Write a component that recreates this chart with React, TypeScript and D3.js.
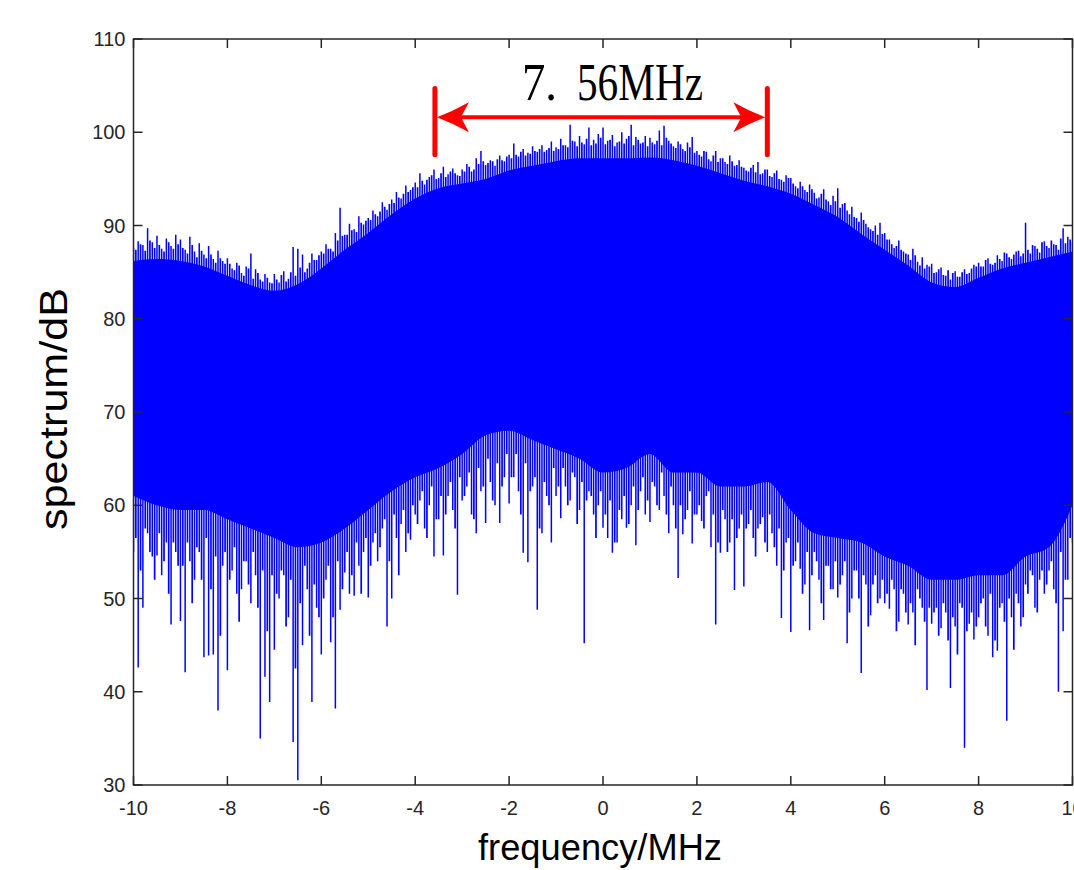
import React from "react";
import * as d3 from "d3";

// ---- data ----
// Dense spectrum samples every 0.1 MHz from -10 to 10 MHz
const sampleStart = -10;
const sampleStep = 0.1;

// top of each sample (dB)
const sampleHigh: number[] = [
  87.6, 88.3, 87.9, 89.7, 88.2, 88.9, 87.5, 88.6, 87.8, 89.0,
  88.5, 87.4, 88.8, 87.2, 88.1, 86.9, 87.8, 86.4, 87.3, 86.2,
  86.5, 85.4, 86.0, 84.9, 85.6, 87.0, 85.3, 84.2, 84.8, 83.9,
  84.8, 83.9, 85.1, 84.3, 87.7, 87.5, 86.9, 85.4, 87.0, 86.3,
  87.2, 88.0, 87.5, 89.2, 91.9, 89.0, 90.2, 89.6, 91.0, 90.1,
  90.8, 91.6, 91.0, 92.5, 91.7, 92.8, 93.6, 92.9, 94.3, 93.8,
  94.6, 95.6, 94.4, 95.2, 96.0, 95.1, 96.3, 95.5, 96.1, 95.4,
  96.0, 96.6, 95.8, 97.2, 98.0, 96.5, 97.0, 96.4, 97.5, 96.9,
  97.6, 98.8, 97.4, 98.2, 97.8, 98.5, 97.9, 98.6, 98.1, 99.0,
  98.4, 99.3, 98.6, 100.8, 99.0, 99.6, 98.7, 100.5, 99.2, 99.8,
  100.5, 99.1, 99.7, 98.9, 100.0, 99.3, 100.8, 99.5, 98.8, 99.6,
  99.4, 98.7, 100.2, 100.7, 99.1, 98.5, 99.0, 98.2, 98.9, 99.5,
  98.0, 97.4, 97.9, 96.9, 98.0, 97.2, 96.8, 97.5, 96.4, 97.0,
  96.2, 95.8, 96.5, 96.8, 95.6, 96.0, 95.2, 95.9, 94.9, 95.4,
  95.1, 94.2, 94.7, 93.8, 94.4, 93.5, 93.0, 93.9, 92.6, 93.2,
  94.0, 92.3, 91.6, 92.0, 90.8, 91.4, 90.2, 89.6, 90.0, 90.3,
  89.2, 88.5, 87.6, 88.4, 87.2, 86.9, 87.5, 86.1, 86.6, 85.8,
  85.9, 85.0, 85.5, 84.6, 84.2, 85.1, 84.5, 85.3, 84.9, 85.8,
  86.0, 85.6, 86.5, 85.8, 86.8, 86.2, 87.0, 86.4, 87.2, 86.7,
  90.3, 87.0, 87.8, 87.1, 88.3, 87.6, 88.0, 87.4, 89.7, 88.8, 88.2,
];

// bottom of each sample (dB)
const sampleLow: number[] = [
  55.0, 42.6, 49.0, 57.0, 54.5, 54.6, 52.5, 56.0, 47.2, 55.0,
  47.6, 42.1, 54.0, 52.0, 55.0, 43.7, 43.9, 44.0, 38.0, 53.5,
  42.3, 53.0, 50.5, 51.0, 54.0, 49.5, 52.5, 35.0, 41.6, 38.9,
  44.5, 50.0, 52.5, 48.0, 34.6, 30.5, 45.0, 51.0, 38.9, 49.0,
  44.0, 52.0, 45.3, 38.2, 48.8, 52.8, 50.5, 50.3, 53.5, 55.0,
  50.1, 56.0, 54.0, 57.5, 47.0, 50.0, 56.5, 58.0, 55.0, 56.3,
  59.0, 60.5, 57.5, 60.0, 54.5, 58.5, 54.6, 61.0, 59.5, 50.4,
  60.5, 62.0, 59.0, 57.0, 61.5, 58.1, 62.5, 60.0, 58.1, 63.0,
  60.2, 63.0, 61.5, 54.9, 53.9, 62.0, 48.8, 57.0, 61.0, 56.0,
  61.0, 58.6, 62.0, 60.5, 63.0, 59.5, 45.2, 61.5, 59.0, 60.0,
  57.6, 56.5, 54.9, 56.0, 58.5, 57.6, 60.0, 55.7, 61.5, 59.0,
  58.2, 62.0, 59.5, 61.0, 57.0, 60.0, 52.2, 56.9, 59.5, 55.9,
  59.0, 58.3, 61.0, 55.5, 47.2, 54.9, 58.5, 56.0, 50.9, 57.5,
  51.3, 58.0, 56.5, 57.5, 58.7, 55.0, 57.0, 53.5, 47.9, 56.0,
  46.4, 54.0, 53.2, 51.5, 46.6, 55.0, 52.0, 47.7, 53.5, 51.0,
  50.1, 52.5, 45.2, 50.0, 53.0, 42.0, 51.5, 48.2, 52.5, 50.0,
  49.5, 48.9, 51.0, 47.5, 50.5, 47.2, 48.5, 51.0, 49.0, 40.2,
  47.3, 49.0, 46.8, 48.5, 40.4, 47.0, 49.5, 34.0, 47.3, 45.6,
  48.0, 50.0, 46.0, 43.7, 44.4, 49.5, 36.9, 48.0, 50.5, 47.0,
  51.5, 53.0, 49.0, 52.0, 50.5, 53.0, 51.0, 40.0, 46.5, 52.0, 56.0,
];

// in-between samples, every 0.1 MHz from -9.95 to 9.95 MHz
const midStart = -9.95;
const midHigh: number[] = [
  87.4, 88.0, 87.3, 88.4, 87.6, 87.9, 87.2, 88.2, 87.5, 88.0,
  87.6, 87.0, 87.9, 86.6, 87.3, 86.5, 86.9, 86.0, 86.5, 85.9,
  85.9, 85.2, 85.7, 84.6, 85.4, 84.3, 84.9, 84.0, 84.4, 83.8,
  84.2, 84.7, 84.0, 85.0, 84.6, 85.5, 85.0, 86.0, 86.3, 86.8,
  87.0, 87.5, 87.2, 88.4, 88.9, 89.0, 89.5, 89.3, 90.3, 90.5,
  90.6, 91.2, 91.5, 92.0, 92.3, 92.4, 93.0, 93.4, 93.6, 94.1,
  94.1, 94.8, 94.9, 95.4, 95.0, 95.6, 95.2, 95.8, 95.6, 95.3,
  95.8, 96.3, 96.0, 96.6, 96.9, 96.7, 96.9, 97.1, 97.0, 97.4,
  97.2, 97.6, 97.9, 97.5, 97.7, 98.0, 98.2, 97.9, 98.3, 98.0,
  98.2, 98.6, 98.4, 99.1, 98.5, 98.9, 99.3, 98.6, 98.8, 99.4,
  98.7, 99.2, 98.5, 99.0, 98.8, 99.6, 98.6, 99.2, 98.9, 98.5,
  98.9, 99.1, 98.6, 99.4, 98.8, 98.3, 98.7, 98.0, 98.4, 97.8,
  97.6, 98.0, 97.1, 97.5, 96.8, 97.2, 96.6, 96.9, 96.5, 96.3,
  95.9, 96.2, 95.7, 95.5, 96.0, 95.3, 95.6, 95.0, 94.7, 95.1,
  94.5, 94.0, 94.2, 93.6, 93.9, 92.9, 93.4, 92.8, 92.2, 92.6,
  91.9, 92.4, 91.2, 90.9, 90.4, 90.6, 89.8, 89.4, 89.0, 89.1,
  88.5, 88.0, 87.8, 87.4, 87.0, 86.3, 86.8, 85.7, 85.4, 85.6,
  84.9, 85.3, 84.7, 85.2, 84.9, 84.5, 85.0, 84.8, 85.4, 85.6,
  85.6, 86.3, 85.9, 86.0, 86.4, 87.1, 86.6, 86.9, 87.3, 87.0,
  87.4, 87.9, 87.5, 88.2, 87.8, 88.4, 87.9, 88.6, 88.1, 88.5,
];
const midLow: number[] = [
  56.5, 53.0, 57.5, 55.0, 52.0, 57.0, 54.0, 50.5, 56.0, 53.5,
  53.5, 56.0, 49.5, 55.5, 52.0, 56.5, 51.0, 54.5, 46.0, 55.0,
  52.0, 55.5, 47.5, 54.0, 51.5, 55.0, 49.0, 53.0, 46.5, 52.5,
  50.5, 53.0, 47.0, 52.0, 42.5, 49.5, 53.5, 46.0, 51.5, 48.0,
  50.0, 53.5, 48.0, 54.0, 51.0, 55.0, 52.5, 56.0, 50.5, 56.5,
  53.5, 57.0, 55.5, 58.5, 54.0, 59.0, 52.5, 59.5, 57.0, 60.0,
  58.0, 61.5, 56.5, 62.0, 58.5, 61.0, 59.0, 62.5, 57.5, 63.0,
  61.0, 63.5, 58.5, 64.0, 62.0, 65.0, 60.5, 64.5, 62.0, 65.5,
  63.0, 65.5, 59.0, 64.5, 61.5, 63.0, 57.5, 62.5, 60.0, 64.0,
  62.0, 64.0, 60.0, 63.5, 58.0, 62.5, 60.5, 61.0, 56.5, 61.5,
  59.0, 60.5, 56.0, 59.5, 61.0, 58.0, 62.0, 59.5, 63.0, 60.5,
  62.5, 60.0, 63.5, 59.0, 62.0, 57.5, 60.0, 58.5, 61.5, 59.0,
  60.0, 57.5, 61.5, 59.0, 56.0, 59.5, 55.0, 58.5, 56.5, 59.0,
  57.5, 59.5, 54.5, 58.0, 56.0, 59.0, 55.5, 57.5, 53.0, 56.5,
  53.5, 56.0, 50.5, 55.0, 52.5, 54.0, 49.5, 53.5, 51.0, 54.0,
  51.5, 54.0, 48.5, 53.0, 50.0, 52.5, 47.0, 51.5, 49.5, 52.0,
  50.5, 52.0, 46.5, 51.0, 48.5, 49.5, 45.0, 50.0, 47.5, 49.0,
  48.5, 46.0, 49.5, 45.5, 48.0, 44.0, 49.0, 46.5, 48.5, 47.0,
  49.5, 47.0, 50.5, 45.5, 49.0, 47.5, 50.0, 44.5, 49.5, 48.0,
  50.5, 52.5, 48.5, 53.0, 51.5, 54.0, 49.5, 55.0, 52.0, 56.5,
];

// fully solid core of the band, every 0.5 MHz from -10 to 10
const envStart = -10;
const envStep = 0.5;
const bandTop: number[] = [
  86.2, 86.4, 86.2, 85.6, 84.6, 83.6, 83.0, 83.7, 85.4, 87.4,
  89.2, 91.2, 92.9, 94.0, 94.5, 95.0, 95.9, 96.4, 96.9, 97.2,
  97.2, 97.2, 97.3, 97.0, 96.4, 95.6, 94.8, 94.2, 93.4, 92.2,
  90.9, 89.1, 87.4, 85.7, 83.9, 83.4, 84.4, 85.4, 86.0, 86.6, 87.2,
];
const bandBottom: number[] = [
  61.0, 60.0, 59.5, 59.5, 58.5, 57.5, 56.5, 55.5, 56.0, 57.5,
  59.5, 61.5, 63.0, 64.0, 65.5, 67.5, 68.0, 67.0, 66.0, 65.0,
  63.5, 64.0, 65.5, 63.5, 63.5, 62.0, 62.0, 62.5, 59.5, 57.0,
  56.5, 56.0, 54.5, 53.5, 52.0, 52.0, 52.5, 52.5, 54.5, 55.5, 60.0,
];

// axis ticks
const xTicks: number[] = [-10, -8, -6, -4, -2, 0, 2, 4, 6, 8, 10];
const yTicks: number[] = [30, 40, 50, 60, 70, 80, 90, 100, 110];

// bandwidth annotation (MHz / dB)
const markerLeft = -3.58;
const markerRight = 3.5;
const markerLevel = 101.6;
const markerBarTop = 104.7;
const markerBarBottom = 97.6;
const markerTextLevel = 103.5;
const markerLabelA = "7.";
const markerLabelB = "56MHz";

const W = 1074;
const H = 870;
const AX = "#262626";
const BLUE = "#0000ff";
const RED = "#ff0000";

export default function App() {
  const x = d3.scaleLinear().domain([-10, 10]).range([133.5, 1072.5]);
  const y = d3.scaleLinear().domain([30, 110]).range([785, 39]);
  const [x0, x1] = x.range();
  const [y0, y1] = y.range();

  const sampleFreqs = sampleHigh.map((_, i) => sampleStart + i * sampleStep);
  const midFreqs = midHigh.map((_, i) => midStart + i * sampleStep);
  const envFreqs = bandTop.map((_, i) => envStart + i * envStep);

  const band = d3
    .area<number>()
    .x((_, i) => x(envFreqs[i]))
    .y0((_, i) => y(bandBottom[i]))
    .y1((_, i) => y(bandTop[i]))
    .curve(d3.curveMonotoneX);

  const lx = x(markerLeft);
  const rx = x(markerRight);
  const ly = y(markerLevel);
  const headLen = 32;
  const headHalf = 15;
  const headNotch = 8;
  const leftHead = `M${lx + 2},${ly} Q${lx + 18},${ly - 6} ${lx + 2 + headLen},${ly - headHalf} L${lx + 2 + headLen - headNotch},${ly} L${lx + 2 + headLen},${ly + headHalf} Q${lx + 18},${ly + 6} ${lx + 2},${ly} Z`;
  const rightHead = `M${rx - 2},${ly} Q${rx - 18},${ly - 6} ${rx - 2 - headLen},${ly - headHalf} L${rx - 2 - headLen + headNotch},${ly} L${rx - 2 - headLen},${ly + headHalf} Q${rx - 18},${ly + 6} ${rx - 2},${ly} Z`;

  const tickFont = "'Liberation Sans', Arial, sans-serif";

  return (
    <svg
      width={W}
      height={H}
      style={{ position: "absolute", left: 0, top: 0, background: "#fff" }}
    >
      <rect x={0} y={0} width={W} height={H} fill="#fff" />
      <defs>
        <clipPath id="plotClip">
          <rect x={x0} y={y1} width={x1 - x0} height={y0 - y1} />
        </clipPath>
      </defs>

      <g clipPath="url(#plotClip)">
        <path d={band(bandTop) || ""} fill={BLUE} />
        {midFreqs.map((f, i) => (
          <line
            key={"m" + i}
            x1={x(f)}
            x2={x(f)}
            y1={y(midHigh[i])}
            y2={y(midLow[i])}
            stroke={BLUE}
            strokeWidth={1.7}
          />
        ))}
        {sampleFreqs.map((f, i) => (
          <line
            key={i}
            x1={x(f)}
            x2={x(f)}
            y1={y(sampleHigh[i])}
            y2={y(sampleLow[i])}
            stroke={BLUE}
            strokeWidth={1.5}
          />
        ))}
      </g>

      {/* axes box */}
      <rect
        x={x0}
        y={y1}
        width={x1 - x0}
        height={y0 - y1}
        fill="none"
        stroke={AX}
        strokeWidth={1.5}
      />
      {xTicks.map((t) => (
        <g key={"xt" + t}>
          <line x1={x(t)} x2={x(t)} y1={y0} y2={y0 - 9} stroke={AX} strokeWidth={1.5} />
          <line x1={x(t)} x2={x(t)} y1={y1} y2={y1 + 9} stroke={AX} strokeWidth={1.5} />
          <text
            x={x(t)}
            y={y0 + 30}
            textAnchor="middle"
            fontFamily={tickFont}
            fontSize={20}
            fill={AX}
          >
            {t}
          </text>
        </g>
      ))}
      {yTicks.map((t) => (
        <g key={"yt" + t}>
          <line x1={x0} x2={x0 + 9} y1={y(t)} y2={y(t)} stroke={AX} strokeWidth={1.5} />
          <line x1={x1} x2={x1 - 9} y1={y(t)} y2={y(t)} stroke={AX} strokeWidth={1.5} />
          <text
            x={x0 - 8}
            y={y(t) + 7}
            textAnchor="end"
            fontFamily={tickFont}
            fontSize={20}
            fill={AX}
          >
            {t}
          </text>
        </g>
      ))}

      {/* axis titles */}
      <text
        x={(x0 + x1) / 2 - 3}
        y={860}
        textAnchor="middle"
        fontFamily={tickFont}
        fontSize={37}
        textLength={244}
        lengthAdjust="spacingAndGlyphs"
        fill="#000"
      >
        frequency/MHz
      </text>
      <text
        transform={`translate(67, ${409}) rotate(-90)`}
        textAnchor="middle"
        fontFamily={tickFont}
        fontSize={38}
        textLength={242}
        lengthAdjust="spacingAndGlyphs"
        fill="#000"
      >
        spectrum/dB
      </text>

      {/* bandwidth annotation */}
      <line
        x1={lx + 10}
        x2={rx - 10}
        y1={ly}
        y2={ly}
        stroke={RED}
        strokeWidth={4}
      />
      <path d={leftHead} fill={RED} />
      <path d={rightHead} fill={RED} />
      <line
        x1={lx}
        x2={lx}
        y1={y(markerBarTop)}
        y2={y(markerBarBottom)}
        stroke={RED}
        strokeWidth={5}
        strokeLinecap="round"
      />
      <line
        x1={rx}
        x2={rx}
        y1={y(markerBarTop)}
        y2={y(markerBarBottom)}
        stroke={RED}
        strokeWidth={5}
        strokeLinecap="round"
      />
      <text
        x={522}
        y={y(markerTextLevel)}
        fontFamily="'Liberation Serif', 'Times New Roman', serif"
        fontSize={52}
        textLength={35}
        lengthAdjust="spacingAndGlyphs"
        fill="#000"
      >
        {markerLabelA}
      </text>
      <text
        x={577}
        y={y(markerTextLevel)}
        fontFamily="'Liberation Serif', 'Times New Roman', serif"
        fontSize={52}
        textLength={126}
        lengthAdjust="spacingAndGlyphs"
        fill="#000"
      >
        {markerLabelB}
      </text>
    </svg>
  );
}
